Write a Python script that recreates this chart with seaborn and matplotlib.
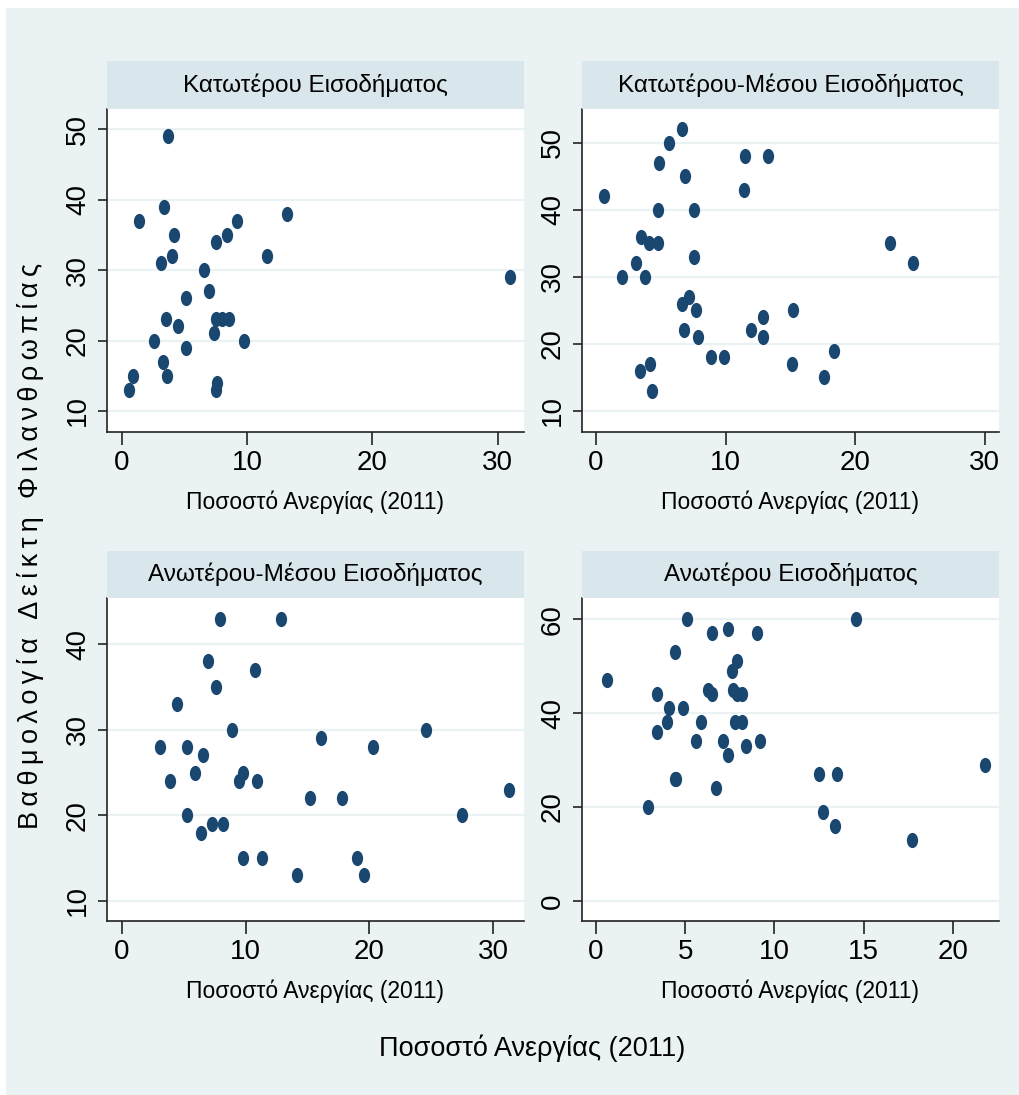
import numpy as np
import pandas as pd
import matplotlib
matplotlib.use("Agg")
import matplotlib.pyplot as plt
from matplotlib.path import Path
from matplotlib.patches import Rectangle
from matplotlib.transforms import Affine2D
import seaborn as sns

# ---------------- data ----------------
titles = ["Κατωτέρου Εισοδήματος", "Κατωτέρου-Μέσου Εισοδήματος",
          "Ανωτέρου-Μέσου Εισοδήματος", "Ανωτέρου Εισοδήματος"]
x_label = "Ποσοστό Ανεργίας (2011)"
y_label = "Βαθμολογία Δείκτη Φιλανθρωπίας"

x1 = [3.7, 3.4, 1.4, 13.2, 9.2, 8.4, 4.2, 7.5, 4.0, 3.1, 11.6, 31.0, 6.6, 7.0, 5.1,
      3.5, 4.5, 7.5, 8.0, 8.6, 7.4, 2.6, 9.8, 5.1, 3.3, 0.9, 3.6, 7.6, 7.5, 0.6]
y1 = [49, 39, 37, 38, 37, 35, 35, 34, 32, 31, 32, 29, 30, 27, 26,
      23, 22, 23, 23, 23, 21, 20, 20, 19, 17, 15, 15, 14, 13, 13]

x2 = [6.6, 5.6, 4.9, 11.5, 13.3, 6.9, 11.4, 0.6, 4.8, 7.6, 3.5, 4.1, 4.8, 7.6, 3.1,
      22.7, 24.5, 2.0, 3.8, 7.2, 6.6, 7.7, 15.2, 12.9, 6.8, 12.0, 7.9, 12.9, 18.4,
      8.9, 9.9, 15.1, 4.2, 3.4, 17.6, 4.3]
y2 = [52, 50, 47, 48, 48, 45, 43, 42, 40, 40, 36, 35, 35, 33, 32,
      35, 32, 30, 30, 27, 26, 25, 25, 24, 22, 22, 21, 21, 19,
      18, 18, 17, 17, 16, 15, 13]

x3 = [7.9, 12.9, 7.0, 10.8, 7.6, 4.5, 8.9, 24.6, 16.1, 3.1, 5.3, 20.3, 6.6, 5.9, 9.8,
      3.9, 9.5, 10.9, 31.3, 15.2, 17.8, 5.3, 27.5, 7.3, 8.2, 6.4, 9.8, 11.3, 19.0,
      14.2, 19.6]
y3 = [43, 43, 38, 37, 35, 33, 30, 30, 29, 28, 28, 28, 27, 25, 25,
      24, 24, 24, 23, 22, 22, 20, 20, 19, 19, 18, 15, 15, 15,
      13, 13]

x4 = [5.1, 14.6, 6.5, 7.4, 9.0, 4.4, 7.9, 7.6, 0.6, 6.3, 6.5, 7.7, 7.9, 8.2, 3.4,
      4.1, 4.9, 4.0, 5.9, 7.8, 8.2, 3.4, 5.6, 7.1, 9.2, 8.4, 7.4, 4.4, 4.5, 12.5,
      13.5, 21.8, 6.7, 2.9, 12.7, 13.4, 17.7]
y4 = [60, 60, 57, 58, 57, 53, 51, 49, 47, 45, 44, 45, 44, 44, 44,
      41, 41, 38, 38, 38, 38, 36, 34, 34, 34, 33, 31, 26, 26, 27,
      27, 29, 24, 20, 19, 16, 13]

xticks = [[0, 10, 20, 30], [0, 10, 20, 30], [0, 10, 20, 30], [0, 5, 10, 15, 20]]
yticks = [[10, 20, 30, 40, 50], [10, 20, 30, 40, 50], [10, 20, 30, 40], [0, 20, 40, 60]]
xlims = [(-1.17, 32.1), (-1.08, 31.1), (-1.19, 32.5), (-0.79, 22.6)]
ylims = [(7.0, 52.9), (6.87, 55.0), (7.66, 45.4), (-4.26, 64.5)]

# ---------------- style ----------------
sns.set_theme(style="white")
plt.rcParams["font.family"] = ["Liberation Sans", "DejaVu Sans"]

BG = "#EAF2F3"
STRIP = "#D9E6EB"
MARK = "#1A476F"
AXC = "#222222"

W, H = 1020, 1095
fig = plt.figure(figsize=(W / 100, H / 100), dpi=100)
fig.patch.set_facecolor("white")
fig.add_artist(Rectangle((6 / W, 0), (W - 6) / W, (H - 8) / H,
                         transform=fig.transFigure, facecolor=BG,
                         edgecolor="none", zorder=-10))

def rect(x0, y0, x1_, y1_):
    return [x0 / W, 1 - y1_ / H, (x1_ - x0) / W, (y1_ - y0) / H]

boxes = [(107, 109, 524, 432), (582, 109, 999, 432),
         (107, 598, 524, 921), (582, 598, 999, 921)]
xs = [x1, x2, x3, x4]
ys = [y1, y2, y3, y4]

ell = Path.unit_circle().transformed(Affine2D().scale(0.74, 1.0))

for i in range(4):
    bx = boxes[i]
    hpx = bx[3] - bx[1]
    ax = fig.add_axes(rect(*bx))
    ax.set_facecolor("white")
    df = pd.DataFrame({"x": xs[i], "y": ys[i]})
    sns.scatterplot(data=df, x="x", y="y", ax=ax, color=MARK, marker=ell,
                    s=120, linewidth=0, zorder=3)
    ax.set_xlim(*xlims[i])
    ax.set_ylim(*ylims[i])
    ax.set_xticks(xticks[i])
    ax.set_yticks(yticks[i])
    ax.set_xticklabels([str(t) for t in xticks[i]])
    ax.set_yticklabels([str(t) for t in yticks[i]], rotation=90, va="center")
    for yt in yticks[i]:
        ax.axhline(yt, color=BG, lw=1.6, zorder=1)
    for s in ["top", "right"]:
        ax.spines[s].set_visible(False)
    for s in ["left", "bottom"]:
        ax.spines[s].set_color(AXC)
        ax.spines[s].set_linewidth(1.2)
    ax.tick_params(axis="x", direction="out", length=9, width=1.2, color=AXC,
                   labelsize=20, pad=4, bottom=True, labelcolor="black")
    ax.tick_params(axis="y", direction="out", length=6.5, width=1.2, color=AXC,
                   labelsize=20, pad=5, left=True, labelcolor="black")
    ax.set_xlabel(x_label, fontsize=16.5, color="black")
    ax.set_ylabel("")
    ax.xaxis.set_label_coords(0.5, -70 / hpx)
    ax.xaxis.label.set_verticalalignment("center")
    hgt = (bx[1] - (61 if i < 2 else 551)) / hpx
    ax.add_patch(Rectangle((0, 1), 1, hgt, transform=ax.transAxes,
                           facecolor=STRIP, edgecolor="none", clip_on=False, zorder=5))
    ax.text(0.5, 1 + hgt / 2, titles[i], transform=ax.transAxes, ha="center",
            va="center", fontsize=17.5, color="black", zorder=6)

spaced = "\u2009 \u2009".join("\u2009".join(w) for w in y_label.split(" "))
fig.text(31 / W, 1 - 546 / H, spaced, rotation=90, ha="center",
         va="center", fontsize=19.5, color="black")
fig.text(532 / W, 1 - 1048 / H, x_label, ha="center", va="center",
         fontsize=19.5, color="black")

fig.savefig("out.png", dpi=100, facecolor=fig.get_facecolor())
